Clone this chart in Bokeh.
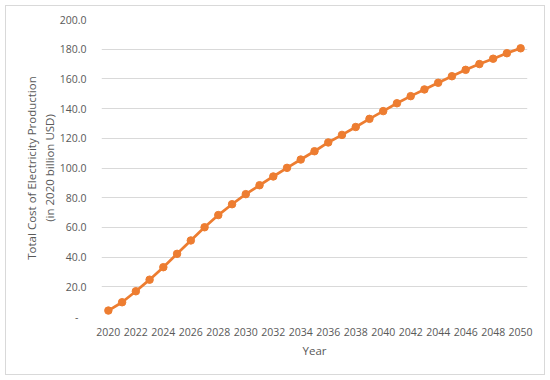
from bokeh.plotting import figure
from bokeh.models import FixedTicker, CustomJSTickFormatter, Range1d
from bokeh.embed import file_html
from bokeh.resources import INLINE

years = list(range(2020, 2051))
cost = [4.0, 9.6, 17.0, 24.8, 33.2, 42.2, 51.2, 60.1, 68.3, 75.6,
        82.4, 88.4, 94.3, 100.1, 105.7, 111.3, 117.2, 122.3, 127.6, 133.1,
        138.3, 143.6, 148.4, 152.9, 157.4, 161.8, 166.1, 170.0, 173.6, 177.3,
        180.6]
x_ticks = list(range(2020, 2051, 2))
y_ticks = list(range(0, 201, 20))

FONT = "Open Sans"
GREY = "#595959"
ORANGE = "#ED7D31"

p = figure(output_backend="svg", toolbar_location=None,
           frame_width=426, frame_height=297,
           min_border_left=95, min_border_right=17,
           min_border_top=13, min_border_bottom=58,
           x_range=Range1d(2019.5, 2050.5), y_range=Range1d(0, 200))
p.styles = {"border": "1px solid #d9d9d9", "margin": "5px"}
p.outline_line_color = None
p.background_fill_color = "white"
p.border_fill_color = "white"

p.line(years, cost, line_color=ORANGE, line_width=2.75)
p.scatter(years, cost, size=7.5, fill_color=ORANGE, line_color=ORANGE)

p.xaxis.ticker = FixedTicker(ticks=x_ticks)
p.yaxis.ticker = FixedTicker(ticks=y_ticks)
p.yaxis.formatter = CustomJSTickFormatter(
    code="return tick == 0 ? '-\u00a0\u00a0\u00a0' : tick.toFixed(1);")

for ax in (p.xaxis[0], p.yaxis[0]):
    ax.axis_line_color = None
    ax.major_tick_line_color = None
    ax.minor_tick_line_color = None
    ax.major_label_text_font = FONT
    ax.major_label_text_font_size = "10.5px"
    ax.major_label_text_color = GREY
    ax.axis_label_text_font = FONT
    ax.axis_label_text_font_size = "11.5px"
    ax.axis_label_text_color = GREY
    ax.axis_label_text_font_style = "normal"

p.xaxis.axis_label = "Year"
p.yaxis.axis_label = "Total Cost of Electricity Production\n(in 2020 billion USD)"
p.xaxis.major_label_standoff = 5
p.xaxis.axis_label_standoff = 4
p.yaxis.major_label_standoff = 9
p.yaxis.axis_label_standoff = 0

p.xgrid.grid_line_color = None
p.ygrid.grid_line_color = "#d9d9d9"
p.ygrid.grid_line_width = 1

open("out.html", "w").write(file_html(p, INLINE))
